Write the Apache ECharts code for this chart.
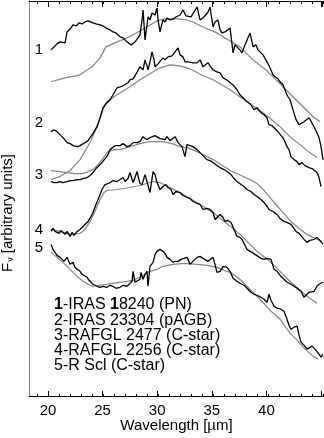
<!DOCTYPE html>
<html>
<head>
<meta charset="utf-8">
<script src="https://cdn.jsdelivr.net/npm/echarts@6/dist/echarts.min.js"></script>
<style>
html,body{margin:0;padding:0;background:#fff}
#chart{width:324px;height:438px}
</style>
</head>
<body>
<div id="chart"></div>
<script>
// wavelength axis (µm)
const wlMin = 18.27;
const wlMax = 45.09;
const firstMinorTick = 19;
const firstMajorTick = 20;

const curveLabels = ['1', '2', '3', '4', '5'];
const legendLines = [
  '{b|1}-IRAS {b|1}8240 (PN)',
  '2-IRAS 23304 (pAGB)',
  '3-RAFGL 2477 (C-star)',
  '4-RAFGL 2256 (C-star)',
  '5-R Scl (C-star)'
];

// observed spectra [wavelength, F_nu (arbitrary, offset)]
const obs1 = [[20.27,350],[20.55,353],[20.82,356],[21.09,358],[21.27,356],[21.55,357],[21.73,368],[21.91,366],[22.09,372],[22.27,375],[22.55,374],[22.82,377],[23.09,376],[23.36,378],[23.64,379],[23.82,378],[24.09,377],[24.36,376],[24.73,375],[25.0,374],[25.27,372],[25.64,370],[25.91,368],[26.18,367],[26.55,363],[26.82,362],[27.09,359],[27.27,358],[27.55,355],[27.73,353],[27.91,358],[28.18,362],[28.36,365],[28.55,380],[28.64,390],[28.82,360],[29.0,375],[29.09,383],[29.27,380],[29.45,387],[29.73,385],[29.91,392],[30.0,380],[30.18,368],[30.45,380],[30.64,378],[30.82,382],[31.09,380],[31.36,381],[31.64,383],[32.0,385],[32.27,390],[32.55,384],[32.73,384],[33.0,383],[33.18,385],[33.55,393],[33.82,380],[34.09,382],[34.27,384],[34.55,388],[34.73,393],[35.0,373],[35.18,378],[35.45,380],[35.64,370],[35.82,367],[36.09,368],[36.27,367],[36.55,372],[36.82,347],[37.0,355],[37.18,355],[37.45,350],[37.64,347],[37.91,355],[38.09,357],[38.36,367],[38.64,353],[38.91,355],[39.09,350],[39.36,347],[39.55,345],[39.91,338],[40.18,332],[40.45,325],[40.64,323],[40.91,321],[41.09,318],[41.36,315],[41.64,307],[41.82,303],[42.0,300],[42.27,290],[42.55,280],[42.82,275],[43.0,273],[43.27,278],[43.45,276],[43.73,282],[43.91,280],[44.18,273],[44.45,267],[44.64,262],[44.82,253],[45.0,240]];
const obs2 = [[20.27,268],[20.55,270],[20.82,268],[21.09,265],[21.36,262],[21.73,257],[22.0,256],[22.27,254],[22.64,253],[22.91,254],[23.09,255],[23.36,257],[23.64,259],[23.82,262],[24.09,266],[24.45,273],[24.73,282],[25.0,292],[25.27,296],[25.64,300],[25.91,305],[26.27,312],[26.55,313],[26.82,314],[27.0,315],[27.27,317],[27.45,320],[27.73,321],[27.91,324],[28.09,325],[28.36,333],[28.64,330],[28.82,340],[29.0,334],[29.09,330],[29.27,338],[29.45,348],[29.64,340],[29.73,333],[30.0,336],[30.18,338],[30.45,342],[30.64,340],[30.91,343],[31.09,342],[31.27,344],[31.55,348],[31.73,350],[31.82,352],[32.0,345],[32.27,343],[32.45,338],[32.73,338],[32.91,338],[33.18,337],[33.55,337],[33.82,340],[34.09,333],[34.27,332],[34.55,337],[34.73,334],[35.0,330],[35.18,328],[35.36,328],[35.64,327],[35.91,322],[36.09,320],[36.36,319],[36.55,317],[36.82,315],[37.18,310],[37.45,305],[37.73,302],[38.09,298],[38.36,296],[38.73,290],[39.0,292],[39.36,287],[39.64,285],[39.91,282],[40.09,275],[40.36,274],[40.55,272],[40.82,269],[41.0,267],[41.27,263],[41.45,260],[41.73,253],[41.91,250],[42.09,243],[42.36,240],[42.64,238],[42.82,235],[43.09,237],[43.36,234],[43.73,232],[44.0,231],[44.18,230],[44.45,227],[44.64,222],[44.82,213]];
const obs3 = [[20.27,218],[20.55,217],[20.82,217],[21.09,218],[21.36,217],[21.73,218],[22.0,219],[22.27,219],[22.64,220],[22.91,220],[23.18,221],[23.55,222],[23.82,224],[24.09,227],[24.36,231],[24.55,233],[24.82,236],[25.0,238],[25.27,242],[25.45,245],[25.64,250],[25.82,252],[26.09,254],[26.27,255],[26.55,254],[26.82,256],[27.18,253],[27.45,254],[27.73,257],[28.09,257],[28.36,258],[28.64,263],[29.0,260],[29.27,262],[29.45,262],[29.73,264],[29.91,265],[30.18,261],[30.36,262],[30.64,260],[30.82,263],[31.09,259],[31.27,260],[31.55,263],[31.82,257],[32.0,257],[32.18,253],[32.45,243],[32.64,255],[32.91,254],[33.18,253],[33.55,250],[33.82,247],[34.09,244],[34.45,240],[34.73,239],[35.0,237],[35.36,234],[35.64,232],[36.0,230],[36.27,228],[36.64,225],[36.91,221],[37.18,218],[37.55,215],[37.82,213],[38.09,210],[38.45,208],[38.73,205],[39.0,203],[39.36,200],[39.64,197],[39.91,193],[40.09,190],[40.45,188],[40.82,185],[41.09,181],[41.45,178],[41.73,177],[42.09,175],[42.36,171],[42.55,168],[42.82,166],[43.0,165],[43.27,160],[43.55,157],[43.82,159],[44.18,160],[44.45,162],[44.64,160],[44.82,158],[45.0,155]];
const obs4 = [[20.27,168],[20.45,171],[20.64,168],[20.82,170],[21.0,166],[21.18,169],[21.36,167],[21.55,165],[21.73,168],[22.0,163],[22.18,167],[22.36,164],[22.64,168],[22.91,170],[23.18,173],[23.45,176],[23.64,178],[23.91,183],[24.09,187],[24.36,195],[24.55,200],[24.73,205],[24.91,210],[25.18,215],[25.45,216],[25.64,217],[25.91,219],[26.27,218],[26.55,220],[26.82,222],[27.0,218],[27.27,221],[27.45,227],[27.73,217],[27.91,222],[28.09,228],[28.36,216],[28.55,215],[28.82,225],[29.0,227],[29.27,207],[29.55,228],[29.73,225],[29.91,217],[30.18,210],[30.45,213],[30.73,215],[30.91,212],[31.18,210],[31.36,205],[31.64,208],[32.0,207],[32.27,204],[32.64,202],[32.91,201],[33.18,198],[33.55,196],[33.82,195],[34.09,190],[34.45,191],[34.73,190],[35.0,187],[35.18,180],[35.36,178],[35.64,185],[35.91,182],[36.09,178],[36.36,179],[36.64,177],[36.91,170],[37.18,163],[37.45,162],[37.64,160],[37.91,154],[38.09,150],[38.36,148],[38.55,147],[38.82,145],[39.0,143],[39.36,141],[39.64,140],[39.91,141],[40.27,140],[40.55,130],[40.82,128],[41.18,123],[41.45,120],[41.73,117],[42.09,115],[42.36,113],[42.64,111],[43.0,108],[43.27,102],[43.45,100],[43.73,107],[43.91,107],[44.18,108],[44.45,113],[44.64,115],[45.0,117]];
const obs5 = [[20.27,155],[20.45,150],[20.64,147],[20.82,144],[21.09,142],[21.27,140],[21.45,138],[21.73,142],[22.0,135],[22.27,137],[22.45,132],[22.64,130],[22.91,128],[23.09,125],[23.27,124],[23.55,122],[23.73,119],[23.91,117],[24.09,115],[24.45,113],[24.73,112],[25.0,113],[25.18,111],[25.36,112],[25.64,114],[25.91,113],[26.18,111],[26.55,112],[26.82,114],[27.18,113],[27.36,115],[27.64,118],[27.73,128],[27.91,117],[28.09,119],[28.36,120],[28.45,127],[28.64,120],[28.82,125],[29.0,128],[29.09,113],[29.27,133],[29.45,135],[29.55,137],[29.73,145],[29.91,148],[30.18,150],[30.45,148],[30.64,146],[30.82,142],[31.09,140],[31.36,137],[31.55,138],[31.82,138],[32.09,140],[32.27,140],[32.64,142],[32.91,135],[33.18,138],[33.55,142],[33.82,143],[34.09,141],[34.27,140],[34.55,138],[34.73,138],[35.0,142],[35.18,135],[35.36,127],[35.64,128],[35.91,133],[36.27,132],[36.55,128],[36.82,121],[37.18,118],[37.45,116],[37.82,114],[38.18,110],[38.45,107],[38.73,105],[39.0,104],[39.36,102],[39.64,100],[39.91,97],[40.09,105],[40.27,99],[40.55,93],[40.82,91],[41.18,90],[41.45,88],[41.73,80],[41.91,74],[42.09,70],[42.36,72],[42.64,73],[42.82,64],[43.0,57],[43.27,54],[43.55,50],[43.73,51],[44.0,53],[44.27,50],[44.45,48],[44.64,45],[44.82,42],[45.0,45]];

// model fits
const model1 = [[20.27,318],[21.55,322],[22.91,325],[24.0,333],[24.73,342],[25.27,353],[26.27,358],[27.18,362],[28.36,369],[29.27,375],[29.91,379],[30.64,381],[31.73,381],[32.64,380],[33.18,378],[34.09,373],[35.36,367],[36.55,359],[37.45,353],[38.64,340],[39.91,329],[40.64,321],[41.36,313],[42.27,303],[43.18,293],[44.09,283],[44.73,278]];
const model2 = [[20.27,220],[21.09,223],[22.0,229],[22.91,240],[23.82,257],[24.45,273],[25.0,290],[25.36,298],[26.27,305],[27.45,313],[28.36,320],[29.27,326],[30.18,332],[31.09,335],[32.0,334],[32.91,331],[34.09,324],[35.0,320],[35.64,316],[36.55,310],[37.45,303],[38.64,294],[39.91,284],[41.09,273],[42.09,262],[42.91,255],[43.55,249],[44.45,242]];
const model3 = [[20.27,229],[21.09,228],[21.73,227],[22.45,226],[23.18,226],[23.64,228],[24.09,230],[24.55,235],[24.91,240],[25.45,248],[26.09,250],[26.55,250],[27.45,253],[28.36,256],[29.27,258],[30.45,258],[31.27,256],[32.0,253],[32.64,252],[33.55,248],[34.27,244],[35.0,240],[36.0,233],[36.55,229],[37.55,224],[38.36,220],[39.0,216],[39.73,208],[40.55,197],[41.27,188],[42.09,178],[42.82,171],[43.55,165],[44.27,161],[44.91,158]];
const model4 = [[20.27,170],[21.09,168],[22.0,165],[22.91,166],[23.36,170],[23.82,178],[24.27,188],[24.73,200],[25.09,207],[25.36,209],[26.27,210],[27.45,212],[28.36,214],[29.55,218],[30.18,217],[31.09,212],[32.0,207],[32.91,201],[33.82,195],[35.0,187],[36.0,178],[36.82,171],[37.55,164],[38.36,155],[39.0,148],[39.82,141],[40.55,134],[41.27,126],[42.09,117],[42.82,110],[43.55,103],[44.45,96]];
const model5 = [[20.27,147],[20.82,142],[21.36,137],[21.82,132],[22.27,127],[22.73,122],[23.18,118],[23.64,115],[24.09,113],[24.73,114],[25.36,115],[25.91,116],[26.55,117],[27.18,118],[27.73,119],[28.36,122],[28.82,125],[29.27,128],[29.91,130],[30.45,133],[31.36,135],[32.45,136],[33.55,135],[34.45,134],[35.36,132],[36.0,129],[36.55,127],[37.45,120],[38.36,110],[39.27,100],[40.18,89],[41.09,80],[42.0,66],[42.64,59],[43.36,50],[44.09,43],[44.55,40]];

const observed = [obs1, obs2, obs3, obs4, obs5];
const models = [model1, model2, model3, model4, model5];

const FONT = 'Liberation Sans';
const chart = echarts.init(document.getElementById('chart'));

// plot frame: main grid plus two overlay grids that only carry the ticks,
// shifted so that their min lands on a whole tick value
const PLOT_LEFT = 29, PLOT_TOP = 1, PLOT_BOTTOM = 41;
const pxPerUm = (324 - PLOT_LEFT) / (wlMax - wlMin);
const gridAt = function (start) {
  return { left: PLOT_LEFT + (start - wlMin) * pxPerUm, right: 0, top: PLOT_TOP, bottom: PLOT_BOTTOM };
};

function tickAxis(gridIndex, position, start, interval, len, labels) {
  return {
    type: 'value', gridIndex: gridIndex, position: position, min: start, max: wlMax, interval: interval,
    axisLine: { show: false },
    axisTick: { show: true, inside: true, length: len, lineStyle: { color: '#000', width: 1 } },
    axisLabel: labels ? {
      show: true, margin: 6, fontSize: 15, color: '#000', fontFamily: FONT, showMaxLabel: false,
      formatter: function (v) { return v < 44 ? String(v) : ''; }
    } : { show: false },
    splitLine: { show: false }
  };
}

const hiddenY = function (gridIndex) {
  return { type: 'value', gridIndex: gridIndex, min: 3, max: 399, show: false };
};

const series = [];
models.forEach(function (d, i) {
  series.push({
    name: 'model ' + curveLabels[i], type: 'line', data: d, showSymbol: false,
    lineStyle: { color: '#858585', width: 1.2 }, z: 2
  });
});
observed.forEach(function (d, i) {
  series.push({
    name: legendLines[i], type: 'line', data: d, showSymbol: false,
    lineStyle: { color: '#000', width: 1.3 }, z: 3
  });
});

const graphics = [];
const labelY = [50, 123, 175, 230, 248];
curveLabels.forEach(function (t, i) {
  graphics.push({ type: 'text', x: 39, y: labelY[i],
    style: { text: t, fontSize: 15, fontFamily: FONT, fill: '#000', align: 'center', verticalAlign: 'middle' } });
});
legendLines.forEach(function (t, i) {
  graphics.push({ type: 'text', x: 54, y: 305 + i * 15.2,
    style: { text: t, fontSize: 16, fontFamily: FONT, fill: '#000', align: 'left', verticalAlign: 'middle',
      rich: { b: { fontSize: 16, fontFamily: FONT, fontWeight: 'bold', fill: '#000' } } } });
});
graphics.push({ type: 'text', x: 8, y: 213, rotation: Math.PI / 2,
  style: { text: '{f|F}{n|ν} [arbitrary units]', fontSize: 15, fontFamily: FONT, fill: '#000',
    align: 'center', verticalAlign: 'middle',
    rich: { f: { fontSize: 15, fontFamily: FONT }, n: { fontSize: 9, fontFamily: FONT, verticalAlign: 'bottom', padding: [5, 0, 0, 1] } } } });

chart.setOption({
  animation: false,
  backgroundColor: '#fff',
  grid: [gridAt(wlMin), gridAt(firstMinorTick), gridAt(firstMajorTick)],
  xAxis: [
    {
      type: 'value', gridIndex: 0, position: 'bottom', min: wlMin, max: wlMax,
      axisLine: { show: true, lineStyle: { color: '#000', width: 1 } },
      axisTick: { show: false }, axisLabel: { show: false }, splitLine: { show: false },
      name: 'Wavelength [µm]', nameLocation: 'middle', nameGap: 22,
      nameTextStyle: { fontSize: 15, color: '#000', fontFamily: FONT }
    },
    {
      type: 'value', gridIndex: 0, position: 'top', min: wlMin, max: wlMax,
      axisLine: { show: true, lineStyle: { color: '#000', width: 1 } },
      axisTick: { show: false }, axisLabel: { show: false }, splitLine: { show: false }
    },
    tickAxis(1, 'bottom', firstMinorTick, 1, 3, false),
    tickAxis(1, 'top', firstMinorTick, 1, 3, false),
    tickAxis(2, 'bottom', firstMajorTick, 5, 6, true),
    tickAxis(2, 'top', firstMajorTick, 5, 6, false)
  ],
  yAxis: [
    {
      type: 'value', gridIndex: 0, min: 3, max: 399,
      axisLine: { show: true, lineStyle: { color: '#888', width: 1 } },
      axisTick: { show: false }, axisLabel: { show: false }, splitLine: { show: false }
    },
    hiddenY(1),
    hiddenY(2)
  ],
  series: series,
  graphic: graphics
});
</script>
</body>
</html>
